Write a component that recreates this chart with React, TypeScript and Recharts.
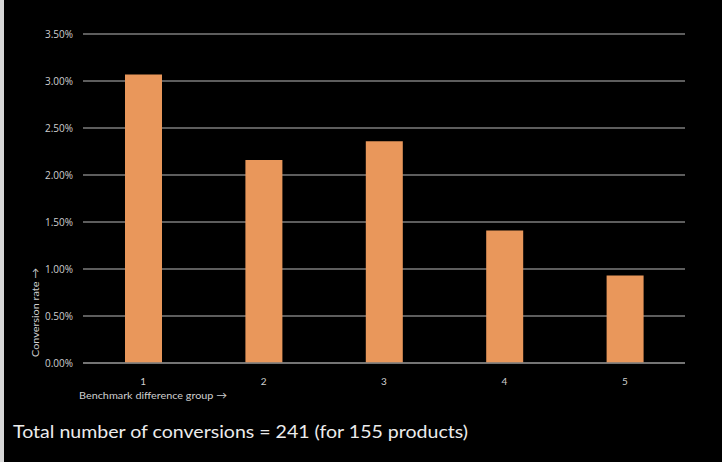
import React from "react";
import { BarChart, Bar, XAxis, YAxis, CartesianGrid, Label } from "recharts";

// Conversion rate (%) per benchmark difference group
const groups = ["1", "2", "3", "4", "5"];
const conversionRates = [3.07, 2.16, 2.36, 1.41, 0.93];
const yTicks = [0, 0.5, 1, 1.5, 2, 2.5, 3, 3.5];
const yAxisTitle = "Conversion rate \u2192";
const xAxisTitle = "Benchmark difference group \u2192";
const footnote = "Total number of conversions = 241 (for 155 products)";

const data = groups.map((g, i) => ({ group: g, rate: conversionRates[i] }));

const W = 722;
const H = 462;
const BAR = "#E9975B";
const GRID = "#7c7c7c";
const TICK = "#cfcfcf";
const FONT = "'Open Sans', 'DejaVu Sans', sans-serif";
const TITLE_FONT = "Lato, 'Open Sans', sans-serif";

const fmtPct = (v: number) => `${v.toFixed(2)}%`;

export default function App() {
  return (
    <div
      style={{
        position: "fixed",
        left: 0,
        top: 0,
        width: W,
        height: H,
        background: "#000",
        overflow: "hidden",
      }}
    >
      <div style={{ position: "absolute", left: 0, top: 0, width: 4, height: H, background: "#d8d8d8" }} />
      <BarChart
        width={W}
        height={H}
        data={data}
        margin={{ top: 34, right: 37, left: 0, bottom: 69 }}
        barSize={37}
      >
        <CartesianGrid horizontal vertical={false} stroke={GRID} strokeWidth={1.6} />
        <XAxis
          dataKey="group"
          axisLine={{ stroke: GRID, strokeWidth: 1.6 }}
          tickLine={false}
          tickMargin={9}
          tick={{ fill: TICK, fontSize: 10, fontFamily: TITLE_FONT }}
          height={30}
        >
          <Label
            content={(props: any) => {
              const vb = props.viewBox || { x: 83, y: 363 };
              return (
                <text
                  x={vb.x - 4}
                  y={vb.y + 36}
                  fill={TICK}
                  fontSize={10}
                  fontFamily={TITLE_FONT}
                  textLength={148}
                  lengthAdjust="spacingAndGlyphs"
                >
                  {xAxisTitle}
                </text>
              );
            }}
          />
        </XAxis>
        <YAxis
          width={83}
          domain={[0, 3.5]}
          ticks={yTicks}
          axisLine={false}
          tickLine={false}
          tickMargin={4}
          tickFormatter={fmtPct}
          tick={{ fill: TICK, fontSize: 10, fontFamily: FONT }}
        >
          <Label
            content={(props: any) => {
              const vb = props.viewBox || { x: 0, y: 34, height: 329 };
              const x = vb.x + 39;
              const y = vb.y + vb.height - 6;
              return (
                <text
                  x={x}
                  y={y}
                  transform={`rotate(-90 ${x} ${y})`}
                  fill={TICK}
                  fontSize={10}
                  fontFamily={TITLE_FONT}
                  textLength={89}
                  lengthAdjust="spacingAndGlyphs"
                >
                  {yAxisTitle}
                </text>
              );
            }}
          />
        </YAxis>
        <Bar dataKey="rate" fill={BAR} isAnimationActive={false} />
      </BarChart>
      <svg
        width={W}
        height={60}
        style={{ position: "absolute", left: 0, top: 400 }}
      >
        <text
          x={13}
          y={38}
          fill="#ececec"
          fontSize={17}
          fontFamily={TITLE_FONT}
          textLength={455}
          lengthAdjust="spacingAndGlyphs"
        >
          {footnote}
        </text>
      </svg>
    </div>
  );
}
